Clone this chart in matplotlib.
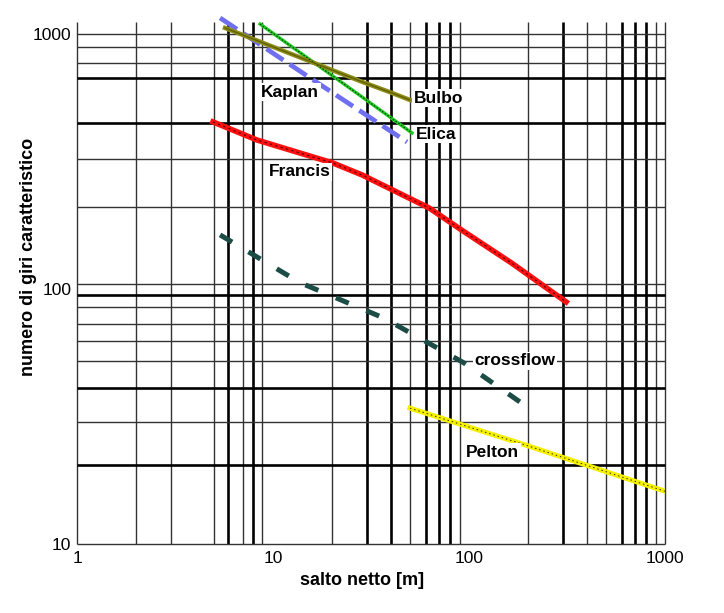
import matplotlib
matplotlib.use("Agg")
import matplotlib.pyplot as plt

# ---- data ----
kaplan_h = [5.37, 16.0, 48.3]
kaplan_n = [1156, 661, 377]

elica_h = [8.59, 28.5, 51.2]
elica_n = [1094, 566, 409]

bulbo_h = [5.69, 28.5, 40.5, 50.0]
bulbo_n = [1056, 649, 587, 551]

francis_h = [4.94, 8.28, 20.2, 28.5, 62.5, 92, 166, 313]
francis_n = [452, 384, 312, 280, 208, 170, 126, 89]

crossflow_h = [5.37, 13.7, 36.8, 94.3, 202]
crossflow_n = [163, 106, 76.9, 51.3, 34.1]

pelton_h = [50, 202, 1000]
pelton_n = [34.1, 24.2, 16.1]

# grid lines as drawn in the original sheet
vgrid_thin = [1, 2, 3, 5, 7, 8.8, 20, 50, 90, 200, 400, 500, 900, 1000]
vgrid_thick = [5.9, 7.94, 30, 40, 60, 70, 80, 300, 600, 700, 800]
hgrid_thin = [10, 30.1, 52.2, 62.5, 72.9, 85, 104.6, 210, 323, 769, 889, 1000]
hgrid_thick = [20.4, 40.9, 94.7, 448, 672]

xticks = [1, 10, 100, 1000]
xticklabels = ["1", "10", "100", "1000"]
yticks = [10, 100, 1000]
yticklabels = ["10", "100", "1000"]

# label name: (H, n, horizontal alignment)
labels = {
    "Kaplan": (12.2, 592, 'center'),
    "Bulbo": (52.5, 561, 'left'),
    "Elica": (53.5, 405, 'left'),
    "Francis": (13.7, 288, 'center'),
    "crossflow": (172, 52.2, 'center'),
    "Pelton": (132, 22.8, 'center'),
}

plt.rcParams['font.family'] = ['Liberation Sans', 'DejaVu Sans']

W, H = 724, 613
fig = plt.figure(figsize=(W / 100, H / 100), dpi=100)
ax = fig.add_axes([77 / W, (H - 544) / H, 588 / W, 530.2 / H])
ax.set_xscale('log')
ax.set_yscale('log')
ax.set_xlim(1, 1000)
ax.set_ylim(10, 1200)
for s in ax.spines.values():
    s.set_visible(False)

vtop = 1110
ax.vlines(vgrid_thin, 10, vtop, colors='#333333', linewidth=1.0, zorder=1, clip_on=False)
ax.vlines(vgrid_thick, 10, vtop, colors='black', linewidth=1.9, zorder=1, clip_on=False)
ax.hlines(hgrid_thin, 1, 1000, colors='#333333', linewidth=1.0, zorder=1, clip_on=False)
ax.hlines(hgrid_thick, 1, 1000, colors='black', linewidth=1.9, zorder=1, clip_on=False)

# curves
ax.plot(kaplan_h, kaplan_n, color='#6f6ff0', linewidth=3.4, dashes=(4.3, 1.6),
        solid_capstyle='butt', dash_capstyle='butt', zorder=3, clip_on=False)
ax.plot(elica_h, elica_n, color='#22cc22', linewidth=2.4, zorder=3, clip_on=False)
ax.plot(elica_h, elica_n, color='#0a3a0a', linewidth=0.8, dashes=(1.5, 1.5), zorder=4, clip_on=False)
ax.plot(bulbo_h, bulbo_n, color='#8c8c18', linewidth=3.2, zorder=3, clip_on=False)
ax.plot(bulbo_h, bulbo_n, color='#5e5e05', linewidth=0.9, zorder=4, clip_on=False)
ax.plot(francis_h, francis_n, color='#ff1010', linewidth=4.0, zorder=3)
ax.plot(francis_h, francis_n, color='#400000', linewidth=0.8, dashes=(2, 3), zorder=4)
ax.plot(crossflow_h, crossflow_n, color='#1c4c46', linewidth=3.6, dashes=(2.8, 3.8),
        dash_capstyle='butt', zorder=3)
ax.plot(pelton_h, pelton_n, color='#f5f000', linewidth=3.6, zorder=3)
ax.plot(pelton_h, pelton_n, color='#303000', linewidth=0.7, dashes=(1.5, 3), zorder=4)

for name, (hx, ny, ha) in labels.items():
    ax.text(hx, ny, name, fontsize=12.5, fontweight='bold', ha=ha, va='center',
            zorder=5, bbox=dict(boxstyle='square,pad=0.1', fc='white', ec='none'))

ax.set_xticks(xticks)
ax.set_xticklabels(xticklabels)
ax.set_yticks(yticks)
ax.set_yticklabels(yticklabels)
ax.minorticks_off()
ax.tick_params(axis='both', length=0, labelsize=12.5, pad=5)
ax.tick_params(axis='y', pad=4)

ax.set_xlabel("salto netto [m]", fontsize=13, fontweight='bold')
ax.set_ylabel("numero di giri caratteristico", fontsize=13, fontweight='bold')
ax.xaxis.set_label_coords((362 - 77) / 588, (544 - 572) / 530.2)
ax.yaxis.set_label_coords((37 - 77) / 588, (544 - 257) / 530.2)

fig.savefig("out.png", dpi=100, facecolor='white')
